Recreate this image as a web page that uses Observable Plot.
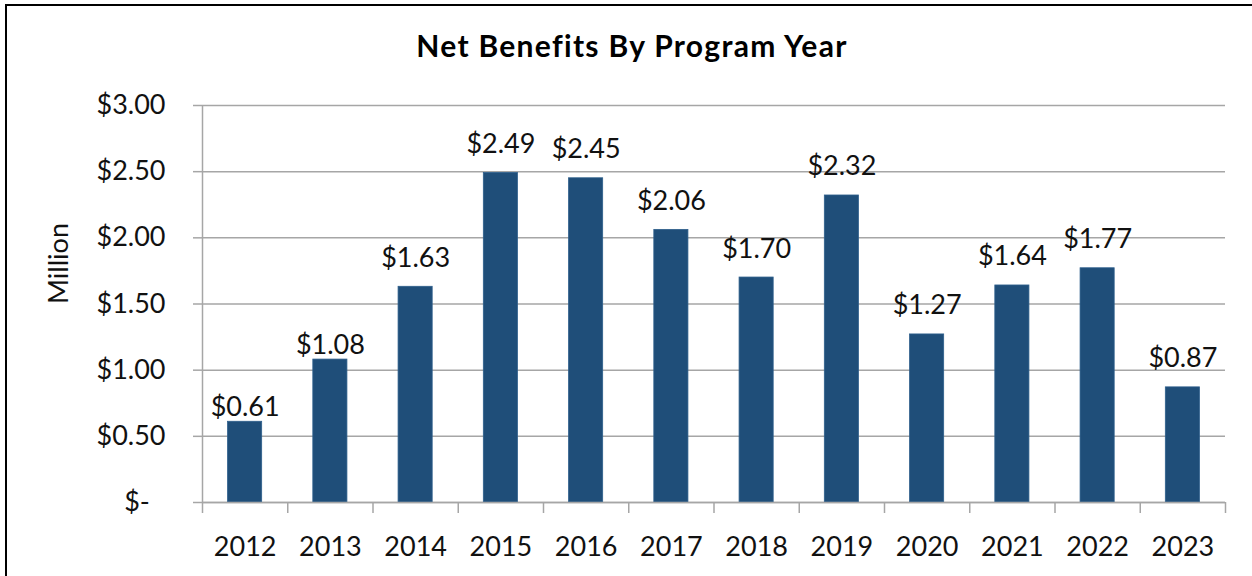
<!DOCTYPE html>
<html>
<head>
<meta charset="utf-8">
<script src="https://cdn.jsdelivr.net/npm/d3@7"></script>
<script src="https://cdn.jsdelivr.net/npm/@observablehq/plot@0.6"></script>
<style>
  html, body { margin: 0; padding: 0; background: #fff; }
  body { width: 1252px; height: 576px; position: relative; overflow: hidden; font-family: Lato, "Open Sans", sans-serif; }
  #frame { position: absolute; left: 5px; top: 4px; width: 1300px; height: 700px; border-left: 2px solid #000; border-top: 2px solid #000; pointer-events: none; }
  #title { position: absolute; left: 6px; top: 29.5px; width: 1252px; text-align: center; font-family: Lato, sans-serif; font-weight: 700; font-size: 30px; line-height: 30px; letter-spacing: 1.3px; color: #000; }
  #chart { position: absolute; left: 0; top: 80px; }
</style>
</head>
<body>
<div id="frame"></div>
<div id="title">Net Benefits By Program Year</div>
<div id="chart"></div>
<script>
const years = [2012, 2013, 2014, 2015, 2016, 2017, 2018, 2019, 2020, 2021, 2022, 2023];
const netBenefits = [0.61, 1.08, 1.63, 2.49, 2.45, 2.06, 1.70, 2.32, 1.27, 1.64, 1.77, 0.87];
const yTicks = [0, 0.5, 1.0, 1.5, 2.0, 2.5, 3.0];
const yLabel = "Million";

const data = years.map((year, i) => ({year, value: netBenefits[i]}));
const bounds = [...years.map(y => y - 0.5), years[years.length - 1] + 0.5];
const tightLabels = new Set([2012, 2013]);

const gridColor = "#a6a6a6";
const barColor = "#1f4e79";
const textColor = "#111";
const fs = 27;

const fmtY = d => d === 0 ? "$-\u2007" : "$" + d.toFixed(2);
const fmtLabel = d => "$" + d.value.toFixed(2);

const chart = Plot.plot({
  width: 1252,
  height: 496,
  marginTop: 25,
  marginBottom: 74,
  marginLeft: 202,
  marginRight: 27,
  style: {fontFamily: "Lato, 'Open Sans', sans-serif", fontSize: fs + "px", color: textColor, background: "transparent"},
  x: {type: "linear", domain: [bounds[0], bounds[bounds.length - 1]]},
  y: {domain: [0, 3]},
  marks: [
    Plot.gridY(yTicks, {stroke: gridColor, strokeOpacity: 1, strokeWidth: 1.5}),
    Plot.axisY(yTicks, {tickSize: 9, tickPadding: 28, tickFormat: fmtY, stroke: gridColor, strokeOpacity: 1, strokeWidth: 1.5, fill: textColor, fontSize: fs, label: null}),
    Plot.ruleX([bounds[0]], {stroke: gridColor, strokeWidth: 1.5}),
    Plot.rectY(data, {x1: d => d.year - 0.2, x2: d => d.year + 0.2, y: "value", fill: barColor, stroke: "#2e5f8c", strokeWidth: 0.8}),
    Plot.ruleY([0], {stroke: gridColor, strokeWidth: 1.5}),
    Plot.axisX(bounds, {tickSize: 11, tickFormat: () => "", stroke: gridColor, strokeOpacity: 1, strokeWidth: 1.5, label: null}),
    Plot.axisX(years, {tickSize: 0, tickPadding: 34, tickFormat: d => String(d), fill: textColor, fontSize: fs, label: null}),
    Plot.text(data.filter(d => !tightLabels.has(d.year)), {x: "year", y: "value", text: fmtLabel, lineAnchor: "bottom", dy: -20, fill: textColor, fontSize: fs}),
    Plot.text(data.filter(d => tightLabels.has(d.year)), {x: "year", y: "value", text: fmtLabel, lineAnchor: "bottom", dy: -6, fill: textColor, fontSize: fs}),
    Plot.text([yLabel], {frameAnchor: "left", text: d => d, rotate: -90, dx: -143, fill: textColor, fontSize: fs})
  ]
});
document.getElementById("chart").appendChild(chart);
</script>
</body>
</html>
